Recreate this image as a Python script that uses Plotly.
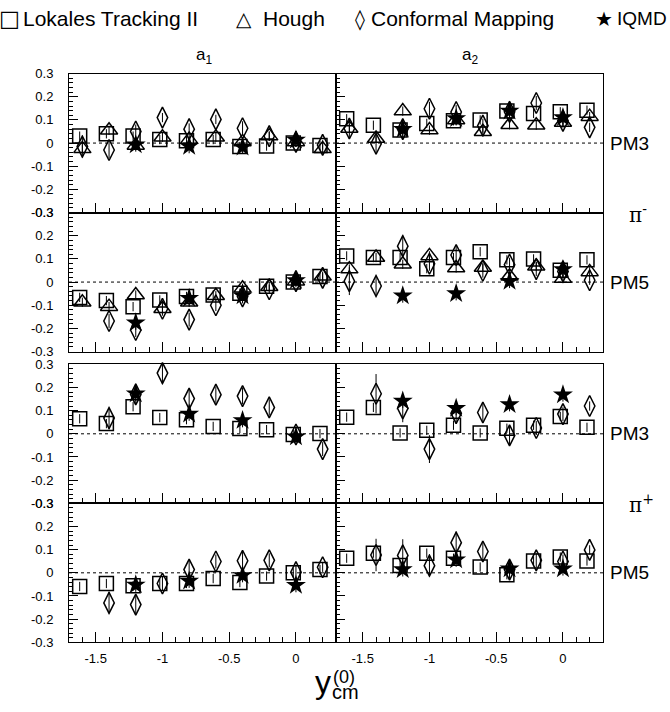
import plotly.graph_objects as go

W, H = 670, 712
FONT = "Liberation Sans"

# ---------------- data ----------------
x_bins = [-1.6, -1.4, -1.2, -1.0, -0.8, -0.6, -0.4, -0.2, 0.0, 0.2]
x_star = [-1.2, -0.8, -0.4, 0.0]
x_ticks = [-1.5, -1.0, -0.5, 0.0]
x_ticktext = ["-1.5", "-1", "-0.5", "0"]
y_ticks = [-0.3, -0.2, -0.1, 0.0, 0.1, 0.2, 0.3]
y_ticktext = ["-0.3", "-0.2", "-0.1", "0", "0.1", "0.2", "0.3"]

series_names = ["Lokales Tracking II", "Hough", "Conformal Mapping", "IQMD"]
column_titles = ["a<sub>1</sub>", "a<sub>2</sub>"]
row_labels = ["PM3", "PM5", "PM3", "PM5"]
particle_labels = ["π<sup>-</sup>", "π<sup>+</sup>"]

# pi-, PM3, a1
p1_sq = [0.030, 0.040, 0.030, 0.015, 0.010, 0.015, -0.015, -0.013, 0.000, -0.010]
p1_tri = [-0.025, 0.055, -0.010, 0.025, 0.015, 0.025, 0.005, 0.030, 0.005, -0.025]
p1_dia = [-0.015, -0.030, 0.050, 0.110, 0.060, 0.102, 0.064, 0.030, 0.005, -0.008]
p1_dia_err = [0.050, 0.035, 0.030, 0.020, 0.025, 0.020, 0.030, 0.020, 0.020, 0.020]
p1_star = [-0.007, -0.014, -0.017, 0.013]

# pi-, PM3, a2
p2_sq = [0.105, 0.077, 0.056, 0.085, 0.096, 0.100, 0.138, 0.128, 0.135, 0.142]
p2_tri = [0.063, 0.020, 0.138, 0.056, 0.100, 0.049, 0.079, 0.077, 0.089, 0.114]
p2_dia = [0.063, -0.003, 0.060, 0.148, 0.134, 0.075, 0.135, 0.173, 0.096, 0.068]
p2_dia_err = [0.045, 0.045, 0.040, 0.030, 0.030, 0.030, 0.035, 0.030, 0.030, 0.020]
p2_star = [0.060, 0.106, 0.138, 0.110]

# pi-, PM5, a1
p3_sq = [-0.066, -0.080, -0.106, -0.077, -0.062, -0.056, -0.048, -0.018, 0.000, 0.024]
p3_tri = [-0.087, -0.106, -0.056, -0.115, -0.087, -0.059, -0.027, -0.020, 0.004, 0.025]
p3_dia = [None, -0.168, -0.207, -0.115, -0.162, -0.100, -0.062, -0.031, 0.004, 0.018]
p3_dia_err = [0.0, 0.030, 0.030, 0.030, 0.030, 0.025, 0.030, 0.020, 0.020, 0.020]
p3_star = [-0.176, -0.070, -0.059, 0.007]

# pi-, PM5, a2
p4_sq = [0.113, 0.106, 0.106, 0.058, 0.106, 0.131, 0.096, 0.100, 0.051, 0.096]
p4_tri = [0.056, 0.106, 0.077, 0.113, 0.061, 0.063, 0.025, 0.068, 0.015, 0.044]
p4_dia = [0.004, -0.017, 0.155, 0.079, 0.117, 0.049, 0.075, 0.056, 0.046, 0.008]
p4_dia_err = [0.060, 0.050, 0.050, 0.030, 0.040, 0.030, 0.030, 0.030, 0.030, 0.020]
p4_star = [-0.059, -0.049, 0.004, 0.054]

# pi+, PM3, a1
p5_sq = [0.065, 0.044, 0.117, 0.070, 0.061, 0.032, 0.023, 0.018, -0.003, 0.001]
p5_dia = [None, 0.068, 0.170, 0.262, 0.152, 0.169, 0.163, 0.114, -0.003, -0.066]
p5_dia_err = [0.0, 0.050, 0.040, 0.050, 0.040, 0.035, 0.035, 0.035, 0.030, 0.030]
p5_star = [0.173, 0.086, 0.058, -0.013]

# pi+, PM3, a2
p6_sq = [0.072, 0.114, 0.004, 0.015, 0.037, 0.004, 0.024, 0.037, 0.075, 0.028]
p6_dia = [None, 0.173, 0.110, -0.066, 0.089, 0.092, -0.007, 0.025, 0.085, 0.120]
p6_dia_err = [0.0, 0.085, 0.060, 0.060, 0.045, 0.045, 0.045, 0.030, 0.030, 0.020]
p6_star = [0.142, 0.110, 0.127, 0.169]

# pi+, PM5, a1
p7_sq = [-0.059, -0.046, -0.056, -0.046, -0.046, -0.025, -0.042, -0.014, 0.000, 0.014]
p7_dia = [None, -0.130, -0.137, -0.046, 0.014, 0.049, 0.052, 0.054, 0.003, 0.024]
p7_dia_err = [0.0, 0.050, 0.040, 0.030, 0.040, 0.030, 0.040, 0.030, 0.030, 0.020]
p7_star = [-0.052, -0.035, -0.011, -0.054]

# pi+, PM5, a2
p8_sq = [0.063, 0.085, 0.032, 0.085, 0.063, 0.025, -0.008, 0.051, 0.068, 0.051]
p8_dia = [None, 0.077, 0.075, 0.031, 0.130, 0.092, 0.014, 0.054, 0.049, 0.099]
p8_dia_err = [0.0, 0.070, 0.070, 0.050, 0.050, 0.040, 0.040, 0.030, 0.030, 0.020]
p8_star = [0.014, 0.056, 0.018, 0.018]

star_err = [0.030, 0.030, 0.030, 0.030]
sq_err = [0.020] * 10

panels = [
    (p1_sq, p1_tri, p1_dia, p1_dia_err, p1_star),
    (p2_sq, p2_tri, p2_dia, p2_dia_err, p2_star),
    (p3_sq, p3_tri, p3_dia, p3_dia_err, p3_star),
    (p4_sq, p4_tri, p4_dia, p4_dia_err, p4_star),
    (p5_sq, None, p5_dia, p5_dia_err, p5_star),
    (p6_sq, None, p6_dia, p6_dia_err, p6_star),
    (p7_sq, None, p7_dia, p7_dia_err, p7_star),
    (p8_sq, None, p8_dia, p8_dia_err, p8_star),
]

# ---------------- layout geometry (pixels) ----------------
col_px = [(69, 336), (336, 603)]
row_px = [(68, 210), (210, 352), (365, 507), (507, 649)]
square_shift = -0.02


def px_x(p):
    return p / W


def px_y(p):
    return 1 - p / H


fig = go.Figure()
layout = dict(
    width=W, height=H,
    margin=dict(l=0, r=0, t=0, b=0),
    paper_bgcolor="white", plot_bgcolor="white",
    showlegend=False,
    font=dict(family=FONT, color="black"),
)
shapes = []
annotations = []

for k, (sq, tri, dia, dia_err, star) in enumerate(panels):
    r, c = k // 2, k % 2
    idx = k + 1
    xa = "x" if idx == 1 else f"x{idx}"
    ya = "y" if idx == 1 else f"y{idx}"
    xkey = "xaxis" if idx == 1 else f"xaxis{idx}"
    ykey = "yaxis" if idx == 1 else f"yaxis{idx}"

    common = dict(mode="markers", xaxis=xa, yaxis=ya, cliponaxis=False)
    fig.add_trace(go.Scatter(
        x=[v + square_shift for v in x_bins], y=sq, name=series_names[0],
        marker=dict(symbol="square-open", size=14, color="black", line=dict(width=1.5)),
        error_y=dict(type="data", array=sq_err, width=0, thickness=1, color="black"),
        **common))
    if tri is not None:
        fig.add_trace(go.Scatter(
            x=x_bins, y=tri, name=series_names[1],
            marker=dict(symbol="triangle-up-open", size=15, color="black", line=dict(width=1.5)),
            error_y=dict(type="data", array=sq_err, width=0, thickness=1, color="black"),
            **common))
    fig.add_trace(go.Scatter(
        x=x_bins, y=dia, name=series_names[2],
        marker=dict(symbol="diamond-tall-open", size=15, color="black", line=dict(width=1.5)),
        error_y=dict(type="data", array=dia_err, width=0, thickness=1, color="black"),
        **common))
    fig.add_trace(go.Scatter(
        x=x_star, y=star, name=series_names[3],
        marker=dict(symbol="star", size=15, color="black", line=dict(width=0)),
        error_y=dict(type="data", array=star_err, width=0, thickness=1, color="black"),
        **common))

    x0, x1 = col_px[c]
    y0, y1 = row_px[r]
    bottom = r == 3
    layout[xkey] = dict(
        domain=[px_x(x0), px_x(x1)], range=[-1.7, 0.3], anchor=ya,
        showline=True, mirror=True, linecolor="black", linewidth=1,
        showgrid=False, zeroline=False,
        ticks="inside", ticklen=10, tickwidth=1, tickcolor="black",
        tickvals=x_ticks, ticktext=x_ticktext, showticklabels=bottom,
        tickfont=dict(size=13, family=FONT), ticklabelstandoff=4,
        minor=dict(ticks="inside", ticklen=5, tickwidth=1, tickcolor="black",
                   dtick=0.1, tick0=0, showgrid=False),
    )
    layout[ykey] = dict(
        domain=[px_y(y1), px_y(y0)], range=[-0.3, 0.3], anchor=xa,
        showline=True, mirror=True, linecolor="black", linewidth=1,
        showgrid=False, zeroline=False,
        ticks="inside", ticklen=9, tickwidth=1, tickcolor="black",
        tickvals=y_ticks, ticktext=y_ticktext, showticklabels=(c == 0),
        tickfont=dict(size=13, family=FONT), ticklabelstandoff=12,
        minor=dict(ticks="inside", ticklen=4, tickwidth=1, tickcolor="black",
                   dtick=0.02, tick0=0, showgrid=False),
    )
    shapes.append(dict(type="line", xref=f"{xa} domain", x0=0, x1=1,
                       yref=ya, y0=0, y1=0,
                       line=dict(color="black", width=1, dash="dot")))
    if c == 1:
        zero_px = (y0 + y1) / 2
        annotations.append(dict(text=row_labels[r], x=px_x(608), y=px_y(zero_px),
                                xref="paper", yref="paper", xanchor="left", yanchor="middle",
                                showarrow=False, font=dict(size=19, family=FONT)))

# column titles
for c, title in enumerate(column_titles):
    x0, x1 = col_px[c]
    annotations.append(dict(text=title, x=px_x((x0 + x1) / 2 + 1), y=px_y(50),
                            xref="paper", yref="paper", xanchor="center", yanchor="middle",
                            showarrow=False, font=dict(size=17, family=FONT)))

# particle labels
for i, lab in enumerate(particle_labels):
    ypix = row_px[2 * i][1]
    annotations.append(dict(text=lab, x=px_x(627), y=px_y(ypix + 1),
                            xref="paper", yref="paper", xanchor="left", yanchor="middle",
                            showarrow=False, font=dict(size=20, family="DejaVu Serif")))

# legend row (symbols + text)
legend_symbols = ["□", "△", "◊", "★"]
legend_sym_size = [22, 20, 20, 20]
legend_sym_x = [9, 244, 360, 604]
legend_txt_x = [22, 262, 370, 668]
legend_txt_anchor = ["left", "left", "left", "right"]
legend_txt_size = [21, 21, 21, 19]
for sym, ss, sx, tx, ta, ts, name in zip(legend_symbols, legend_sym_size, legend_sym_x,
                                         legend_txt_x, legend_txt_anchor, legend_txt_size,
                                         series_names):
    annotations.append(dict(text=sym, x=px_x(sx), y=px_y(12), xref="paper", yref="paper",
                            xanchor="center", yanchor="middle", showarrow=False,
                            font=dict(size=ss, family="DejaVu Sans")))
    annotations.append(dict(text=name, x=px_x(tx), y=px_y(12), xref="paper", yref="paper",
                            xanchor=ta, yanchor="middle", showarrow=False, borderpad=0,
                            font=dict(size=ts, family=FONT)))

# x-axis title y_cm^(0)
annotations.append(dict(text="y", x=px_x(323), y=px_y(690), xref="paper", yref="paper",
                        xanchor="center", yanchor="middle", showarrow=False,
                        font=dict(size=32, family=FONT)))
annotations.append(dict(text="cm", x=px_x(345), y=px_y(700), xref="paper", yref="paper",
                        xanchor="center", yanchor="middle", showarrow=False,
                        font=dict(size=20, family=FONT)))
annotations.append(dict(text="(0)", x=px_x(344), y=px_y(684), xref="paper", yref="paper",
                        xanchor="center", yanchor="middle", showarrow=False,
                        font=dict(size=18, family=FONT)))

layout["shapes"] = shapes
layout["annotations"] = annotations
fig.update_layout(**layout)
fig.write_html(
    "out.html",
    config={"displayModeBar": False},
    post_script="document.body.style.margin='0';document.body.style.overflow='hidden';",
)
